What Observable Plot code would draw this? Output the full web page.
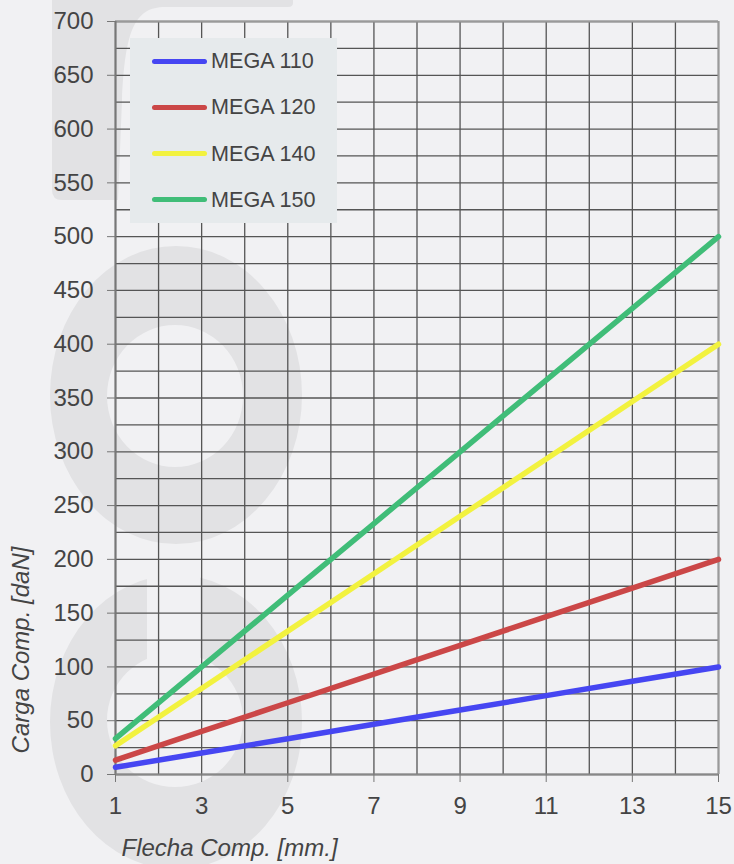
<!DOCTYPE html>
<html>
<head>
<meta charset="utf-8">
<script src="https://cdn.jsdelivr.net/npm/d3@7"></script>
<script src="https://cdn.jsdelivr.net/npm/@observablehq/plot@0.6"></script>
<style>
  html, body { margin: 0; padding: 0; background: #f1f1f3; }
  #wrap { position: relative; width: 734px; height: 864px; overflow: hidden; font-family: "Liberation Sans", Arial, sans-serif; }
  #wm { position: absolute; left: 0; top: 0; }
  #chart { position: absolute; left: 0; top: 0; }
  #legend { position: absolute; left: 130px; top: 38px; width: 207px; height: 185px; background: #e6eaec; }
  .lg-line { position: absolute; left: 22px; width: 55px; height: 5px; border-radius: 3px; }
  .lg-text { position: absolute; left: 81px; font-size: 21.6px; color: #444; line-height: 24px; white-space: nowrap; }
</style>
</head>
<body>
<div id="wrap">
  <svg id="wm" width="734" height="864" aria-hidden="true">
    <defs>
      <clipPath id="gclip"><rect x="0" y="577" width="734" height="300"></rect></clipPath>
    </defs>
    <g fill="#e2e2e4">
      <path d="M52,0 H293 V3 Q293,7 288,7 H165 C135,7 125,30 122,100 L118,200 H62 Q52,200 52,190 Z"></path>
      <path fill-rule="evenodd" d="M50,395 A126,149 0 1,0 302,395 A126,149 0 1,0 50,395 Z M107,396 A68,71 0 1,0 243,396 A68,71 0 1,0 107,396 Z"></path>
      <path clip-path="url(#gclip)" fill-rule="evenodd" d="M50,722 A126,147 0 1,0 302,722 A126,147 0 1,0 50,722 Z M107,720 A68,67 0 1,0 243,720 A68,67 0 1,0 107,720 Z"></path>
    </g>
    <rect x="147" y="570" width="53" height="90" fill="#f1f1f3"></rect>
  </svg>
  <div id="chart"></div>
  <div id="legend"></div>
</div>
<script>
// ---- data ----
const flecha = [1, 3, 5, 7, 9, 11, 13, 15];
const mega110 = [6.7, 20, 33.3, 46.7, 60, 73.3, 86.7, 100];
const mega120 = [13.3, 40, 66.7, 93.3, 120, 146.7, 173.3, 200];
const mega140 = [26.7, 80, 133.3, 186.7, 240, 293.3, 346.7, 400];
const mega150 = [33.3, 100, 166.7, 233.3, 300, 366.7, 433.3, 500];
const seriesNames = ["MEGA 110", "MEGA 120", "MEGA 140", "MEGA 150"];
const seriesColors = ["#4646f2", "#cb4747", "#f2f23f", "#40bd78"];
const xTicks = [1, 3, 5, 7, 9, 11, 13, 15];
const yTicks = [0, 50, 100, 150, 200, 250, 300, 350, 400, 450, 500, 550, 600, 650, 700];
const xLabel = "Flecha Comp. [mm.]";
const yLabel = "Carga Comp. [daN]";

const seriesValues = [mega110, mega120, mega140, mega150];
const rows = seriesNames.flatMap((name, s) =>
  flecha.map((x, i) => ({ name, x, y: seriesValues[s][i] })));

const gridXs = d3.range(1, 16);
const gridYs = d3.range(0, 701, 25);

const chart = Plot.plot({
  width: 734,
  height: 864,
  marginLeft: 115,
  marginRight: 16,
  marginTop: 21,
  marginBottom: 90,
  style: { background: "transparent", fontFamily: "'Liberation Sans', Arial, sans-serif", fontSize: "24px", color: "#444", overflow: "visible" },
  x: { domain: [1, 15] },
  y: { domain: [0, 700] },
  color: { domain: seriesNames, range: seriesColors },
  marks: [
    Plot.gridX(gridXs, { stroke: "#555", strokeOpacity: 1, strokeWidth: 1.3 }),
    Plot.gridY(gridYs, { stroke: "#555", strokeOpacity: 1, strokeWidth: 1.3 }),
    Plot.ruleY([700], { stroke: "#9a9a9a", strokeWidth: 2 }),
    Plot.ruleX([15], { stroke: "#9a9a9a", strokeWidth: 2 }),
    Plot.ruleX([1], { stroke: "#777", strokeWidth: 2 }),
    Plot.ruleY([0], { stroke: "#888", strokeWidth: 2 }),
    Plot.axisX(xTicks, { tickSize: 8, tickPadding: 14, label: null, stroke: "#777", fontSize: 24, fill: "#444" }),
    Plot.axisY(yTicks, { tickSize: 8, tickPadding: 14, label: null, stroke: "#777", fontSize: 24, fill: "#444" }),
    Plot.line(rows, { x: "x", y: "y", z: "name", stroke: "name", strokeWidth: 5.5, strokeLinecap: "round" }),
    Plot.text([xLabel], { frameAnchor: "bottom-left", textAnchor: "start", lineAnchor: "middle", dx: 6, dy: 74, fontSize: 24, fontStyle: "italic", fill: "#444" }),
    Plot.text([yLabel], { frameAnchor: "left", textAnchor: "middle", lineAnchor: "middle", rotate: -90, dx: -94, dy: 252, fontSize: 24, fontStyle: "italic", fill: "#444" })
  ]
});
document.getElementById("chart").appendChild(chart);

// legend
const legend = document.getElementById("legend");
seriesNames.forEach((name, i) => {
  const cy = 23 + i * 46.3;
  const ln = document.createElement("div");
  ln.className = "lg-line";
  ln.style.top = (cy - 2.5) + "px";
  ln.style.background = seriesColors[i];
  legend.appendChild(ln);
  const tx = document.createElement("div");
  tx.className = "lg-text";
  tx.style.top = (cy - 12) + "px";
  tx.textContent = name;
  legend.appendChild(tx);
});
</script>
</body>
</html>
